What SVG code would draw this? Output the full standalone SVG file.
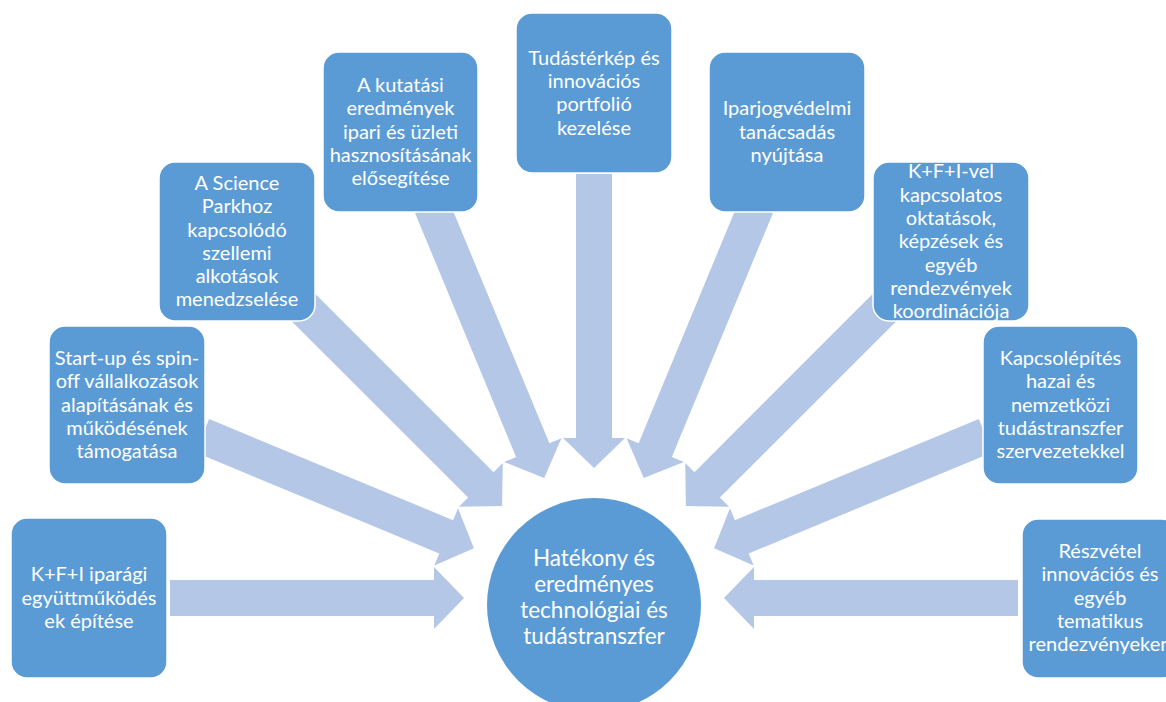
<svg xmlns="http://www.w3.org/2000/svg" width="1166" height="702" viewBox="0 0 1166 702">
<style>
.arrow{fill:#B4C7E7;stroke:none}
.box{fill:#5B9BD5;stroke:#FFFFFF;stroke-width:1.5}
.t{font-family:Lato,"Liberation Sans",sans-serif;font-size:20px;fill:#FFFFFF;text-anchor:middle}
.ct{font-family:Lato,"Liberation Sans",sans-serif;font-size:22.5px;fill:#FFFFFF;text-anchor:middle}
</style>
<rect x="0" y="0" width="1166" height="702" fill="#FFFFFF"/>
<g id="connectors">
<polygon class="arrow" points="464,598 434,567 434,580 170,580 170,616 434,616 434,629"/>
<polygon class="arrow" points="473.9,548.25 458.04,508.13 453.07,520.14 209.16,419.11 195.38,452.37 439.29,553.4 434.32,565.41"/>
<polygon class="arrow" points="502.08,506.08 502.78,462.94 493.59,472.13 306.92,285.46 281.46,310.92 468.13,497.59 458.94,506.78"/>
<polygon class="arrow" points="544.25,477.9 561.41,438.32 549.4,443.29 448.37,199.38 415.11,213.16 516.14,457.07 504.13,462.04"/>
<polygon class="arrow" points="594,468 625,438 612,438 612,174 576,174 576,438 563,438"/>
<polygon class="arrow" points="643.75,477.9 683.87,462.04 671.86,457.07 772.89,213.16 739.63,199.38 638.6,443.29 626.59,438.32"/>
<polygon class="arrow" points="685.92,506.08 729.06,506.78 719.87,497.59 906.54,310.92 881.08,285.46 694.41,472.13 685.22,462.94"/>
<polygon class="arrow" points="714.1,548.25 753.68,565.41 748.71,553.4 992.62,452.37 978.84,419.11 734.93,520.14 729.96,508.13"/>
<polygon class="arrow" points="724,598 754,567 754,580 1018,580 1018,616 754,616 754,629"/>
</g>
<g id="node-center">
<circle cx="594" cy="605" r="107" fill="#5B9BD5"/>
<text class="ct" x="594" y="566">Hatékony és</text>
<text class="ct" x="594" y="592">eredményes</text>
<text class="ct" x="594" y="618">technológiai és</text>
<text class="ct" x="594" y="644">tudástranszfer</text>
</g>
<g id="node-1">
<rect class="box" x="11" y="518" width="156" height="160" rx="16"/>
<text class="t" x="89" y="581.4">K+F+I iparági</text>
<text class="t" x="89" y="604.7">együttműködés</text>
<text class="t" x="89" y="628">ek építése</text>
</g>
<g id="node-2">
<rect class="box" x="49" y="326" width="156" height="158" rx="16"/>
<text class="t" x="127" y="365">Start-up és spin-</text>
<text class="t" x="127" y="388.3">off vállalkozások</text>
<text class="t" x="127" y="411.7">alapításának és</text>
<text class="t" x="127" y="435">működésének</text>
<text class="t" x="127" y="458.3">támogatása</text>
</g>
<g id="node-3">
<rect class="box" x="159" y="162" width="156" height="159" rx="16"/>
<text class="t" x="237" y="189.9">A Science</text>
<text class="t" x="237" y="213.2">Parkhoz</text>
<text class="t" x="237" y="236.5">kapcsolódó</text>
<text class="t" x="237" y="259.8">szellemi</text>
<text class="t" x="237" y="283.1">alkotások</text>
<text class="t" x="237" y="306.4">menedzselése</text>
</g>
<g id="node-4">
<rect class="box" x="323" y="52" width="155" height="160" rx="16"/>
<text class="t" x="400.5" y="92.1">A kutatási</text>
<text class="t" x="400.5" y="115.4">eredmények</text>
<text class="t" x="400.5" y="138.7">ipari és üzleti</text>
<text class="t" x="400.5" y="162">hasznosításának</text>
<text class="t" x="400.5" y="185.3">elősegítése</text>
</g>
<g id="node-5">
<rect class="box" x="516" y="13" width="156" height="160" rx="16"/>
<text class="t" x="594" y="64.8">Tudástérkép és</text>
<text class="t" x="594" y="88.1">innovációs</text>
<text class="t" x="594" y="111.4">portfolió</text>
<text class="t" x="594" y="134.7">kezelése</text>
</g>
<g id="node-6">
<rect class="box" x="709" y="52" width="156" height="160" rx="16"/>
<text class="t" x="787" y="115.4">Iparjogvédelmi</text>
<text class="t" x="787" y="138.7">tanácsadás</text>
<text class="t" x="787" y="162">nyújtása</text>
</g>
<g id="node-7">
<rect class="box" x="873" y="162" width="156" height="159" rx="16"/>
<text class="t" x="951" y="178.3">K+F+I-vel</text>
<text class="t" x="951" y="201.6">kapcsolatos</text>
<text class="t" x="951" y="224.9">oktatások,</text>
<text class="t" x="951" y="248.2">képzések és</text>
<text class="t" x="951" y="271.5">egyéb</text>
<text class="t" x="951" y="294.8">rendezvények</text>
<text class="t" x="951" y="318.1">koordinációja</text>
</g>
<g id="node-8">
<rect class="box" x="983" y="326" width="155" height="158" rx="16"/>
<text class="t" x="1060.5" y="365">Kapcsolépítés</text>
<text class="t" x="1060.5" y="388.3">hazai és</text>
<text class="t" x="1060.5" y="411.7">nemzetközi</text>
<text class="t" x="1060.5" y="435">tudástranszfer</text>
<text class="t" x="1060.5" y="458.3">szervezetekkel</text>
</g>
<g id="node-9">
<rect class="box" x="1022" y="519" width="156" height="159" rx="16"/>
<text class="t" x="1100" y="558.1">Részvétel</text>
<text class="t" x="1100" y="581.4">innovációs és</text>
<text class="t" x="1100" y="604.7">egyéb</text>
<text class="t" x="1100" y="628">tematikus</text>
<text class="t" x="1100" y="651.3">rendezvényeken</text>
</g>
</svg>
